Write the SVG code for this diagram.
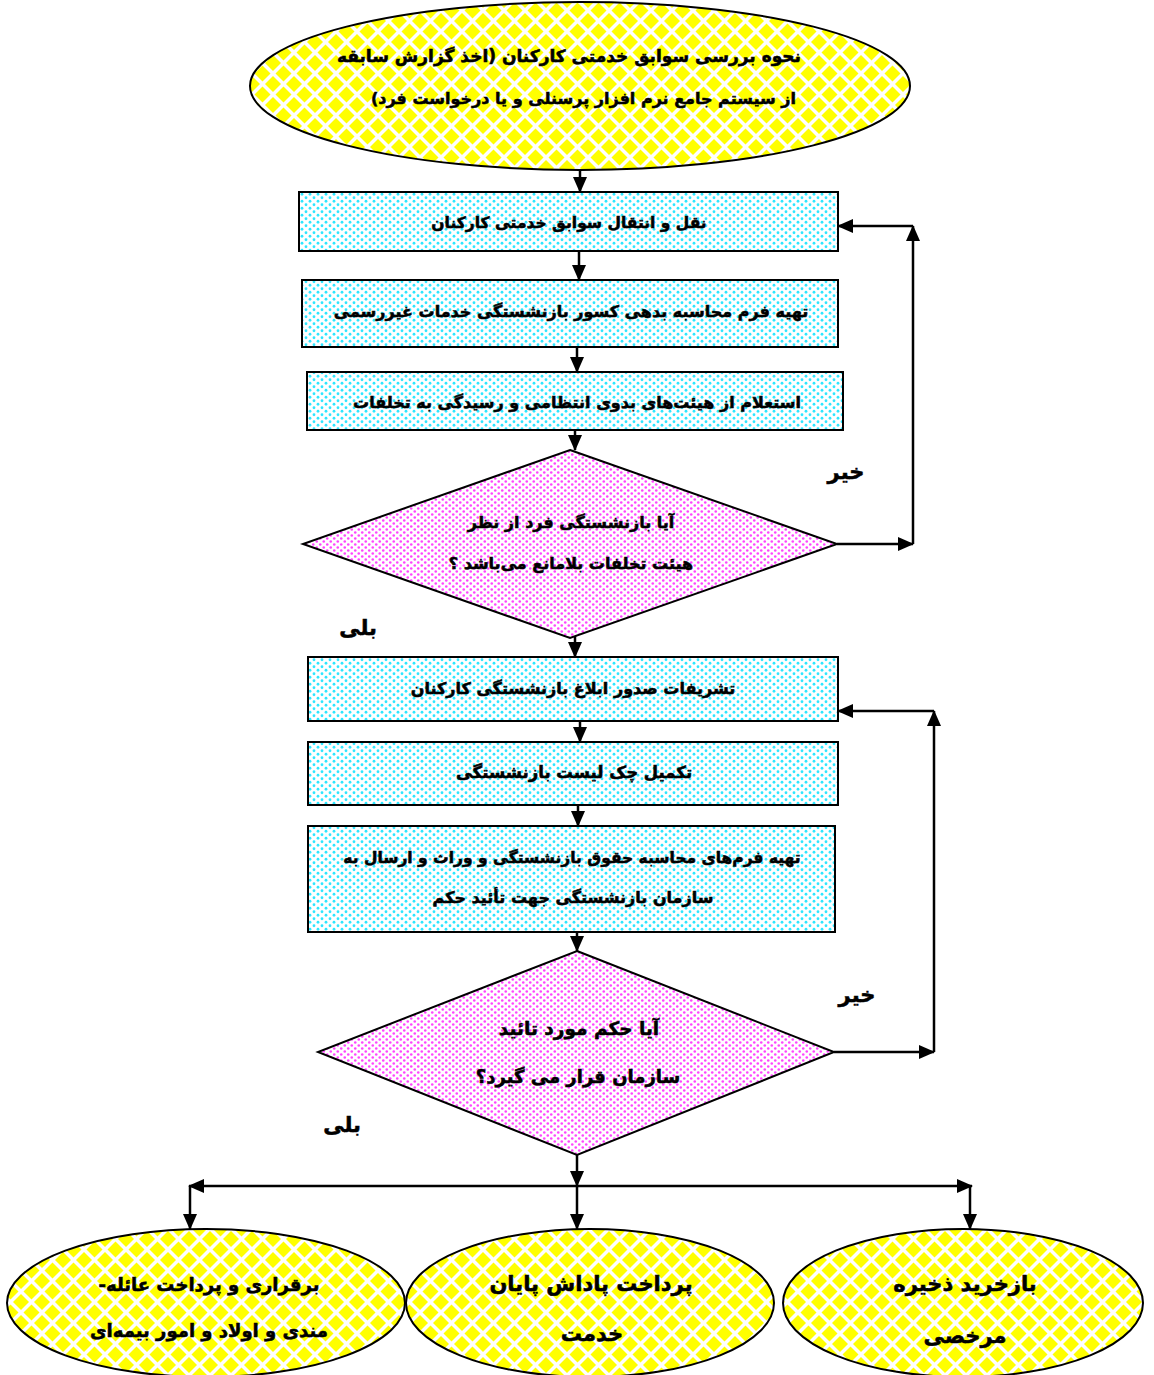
<svg xmlns="http://www.w3.org/2000/svg" width="1154" height="1375" viewBox="0 0 1154 1375">
<defs>
<pattern id="yel" patternUnits="userSpaceOnUse" width="21" height="21">
<rect width="21" height="21" fill="#fff"/>
<path d="M10.5 2.5 L18.5 10.5 L10.5 18.5 L2.5 10.5Z M0 -8 L8 0 L0 8 L-8 0Z M21 -8 L29 0 L21 8 L13 0Z M0 13 L8 21 L0 29 L-8 21Z M21 13 L29 21 L21 29 L13 21Z" fill="#ffff00"/>
</pattern>
<pattern id="cyan" patternUnits="userSpaceOnUse" width="8" height="7">
<rect width="8" height="7" fill="#fff"/>
<circle cx="2" cy="1.75" r="1.4" fill="#2ee6ff"/>
<circle cx="6" cy="5.25" r="1.4" fill="#2ee6ff"/>
</pattern>
<pattern id="mag" patternUnits="userSpaceOnUse" width="7" height="6">
<rect width="7" height="6" fill="#fff"/>
<circle cx="1.75" cy="1.5" r="1.3" fill="#ff44ff"/>
<circle cx="5.25" cy="4.5" r="1.3" fill="#ff44ff"/>
</pattern>
<marker id="ah" markerUnits="userSpaceOnUse" markerWidth="16" markerHeight="14" refX="15" refY="7" orient="auto">
<path d="M0 0 L16 7 L0 14Z" fill="#000"/>
</marker>
<style>
.t{font-family:"DejaVu Sans",sans-serif;font-weight:bold;font-size:16px;fill:#000;stroke:#000;stroke-width:0.55;text-anchor:middle;direction:rtl}
.tr{font-family:"DejaVu Sans",sans-serif;font-weight:bold;font-size:17px;fill:#000;stroke:#000;stroke-width:0.55;direction:rtl;text-anchor:start}
.big{font-size:21px}
.box{fill:url(#cyan);stroke:#000;stroke-width:2}
.dia{fill:url(#mag);stroke:#000;stroke-width:2}
.ell{fill:url(#yel);stroke:#000;stroke-width:2}
.c line{stroke:#000;stroke-width:2.5;fill:none;marker-end:url(#ah)}
</style>
</defs>
<rect width="1154" height="1375" fill="#fff"/>

<g id="start">
<ellipse class="ell" cx="580" cy="86" rx="330" ry="84"/>
<text class="tr" x="801" y="62">نحوه بررسی سوابق خدمتی کارکنان (اخذ گزارش سابقه</text>
<text class="tr" x="796" y="104" style="font-size:16px">از سیستم جامع نرم افزار پرسنلی و یا درخواست فرد)</text>
</g>

<g id="n1">
<rect class="box" x="299" y="192" width="539" height="59"/>
<text class="t" x="569" y="228" style="font-size:15.5px">نقل و انتقال سوابق خدمتی کارکنان</text>
</g>
<g id="n2">
<rect class="box" x="302" y="280" width="536" height="67"/>
<text class="t" x="571" y="317">تهیه فرم محاسبه بدهی کسور بازنشستگی خدمات غیررسمی</text>
</g>
<g id="n3">
<rect class="box" x="307" y="372" width="536" height="58"/>
<text class="t" x="577" y="408">استعلام از هیئت‌های بدوی انتظامی و رسیدگی به تخلفات</text>
</g>
<g id="d1">
<polygon class="dia" points="570,450 837,544 570,638 303,544"/>
<text class="t" x="571" y="528">آیا بازنشستگی فرد از نظر</text>
<text class="t" x="571" y="569">هیئت تخلفات بلامانع می‌باشد ؟</text>
</g>
<g id="n4">
<rect class="box" x="308" y="657" width="530" height="64"/>
<text class="t" x="573" y="694">تشریفات صدور ابلاغ بازنشستگی کارکنان</text>
</g>
<g id="n5">
<rect class="box" x="308" y="742" width="530" height="63"/>
<text class="t" x="574" y="778" style="font-size:16.5px">تکمیل چک لیست بازنشستگی</text>
</g>
<g id="n6">
<rect class="box" x="308" y="826" width="527" height="106"/>
<text class="t" x="572" y="863" style="font-size:15.5px">تهیه فرم‌های محاسبه حقوق بازنشستگی و وراث و ارسال به</text>
<text class="t" x="573" y="903">سازمان بازنشستگی جهت تأئید حکم</text>
</g>
<g id="d2">
<polygon class="dia" points="577,951 834,1052 577,1155 318,1052"/>
<text class="t" x="579" y="1035" style="font-size:18.5px">آیا حکم مورد تائید</text>
<text class="t" x="578" y="1083" style="font-size:18px">سازمان قرار می گیرد؟</text>
</g>
<g id="e1">
<ellipse class="ell" cx="206" cy="1303" rx="199" ry="74"/>
<text class="t" x="209" y="1291" style="font-size:18px">برقراری و پرداخت عائله-</text>
<text class="t" x="209" y="1337" style="font-size:18px">مندی و اولاد و امور بیمه‌ای</text>
</g>
<g id="e2">
<ellipse class="ell" cx="590" cy="1303" rx="184" ry="74"/>
<text class="t big" x="591" y="1291">پرداخت پاداش پایان</text>
<text class="t big" x="592" y="1341">خدمت</text>
</g>
<g id="e3">
<ellipse class="ell" cx="963" cy="1303" rx="180" ry="74"/>
<text class="t big" x="965" y="1291">بازخرید ذخیره</text>
<text class="t big" x="965" y="1343">مرخصی</text>
</g>

<g id="labels">
<text class="t big" x="846" y="479">خیر</text>
<text class="t big" x="358" y="635">بلی</text>
<text class="t big" x="857" y="1002">خیر</text>
<text class="t big" x="342" y="1132">بلی</text>
</g>

<g id="connectors" class="c">
<line x1="580" y1="170" x2="580" y2="192"/>
<line x1="579" y1="251" x2="579" y2="280"/>
<line x1="577" y1="347" x2="577" y2="372"/>
<line x1="575" y1="430" x2="575" y2="450"/>
<line x1="837" y1="544" x2="913" y2="544"/>
<line x1="913" y1="544" x2="913" y2="226"/>
<line x1="913" y1="226" x2="838" y2="226"/>
<line x1="575" y1="636" x2="575" y2="657"/>
<line x1="580" y1="721" x2="580" y2="742"/>
<line x1="578" y1="805" x2="578" y2="826"/>
<line x1="577" y1="932" x2="577" y2="951"/>
<line x1="834" y1="1052" x2="934" y2="1052"/>
<line x1="934" y1="1052" x2="934" y2="711"/>
<line x1="934" y1="711" x2="838" y2="711"/>
<line x1="577" y1="1155" x2="577" y2="1186"/>
<line x1="577" y1="1186" x2="189" y2="1186"/>
<line x1="577" y1="1186" x2="972" y2="1186"/>
<line x1="190" y1="1186" x2="190" y2="1229"/>
<line x1="577" y1="1186" x2="577" y2="1229"/>
<line x1="970" y1="1186" x2="970" y2="1229"/>
</g>
</svg>
